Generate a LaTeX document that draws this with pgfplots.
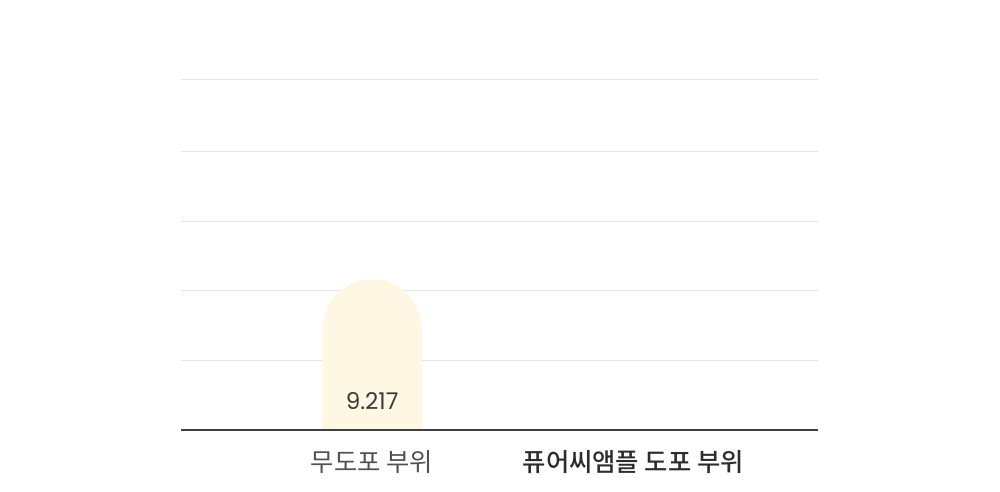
\documentclass[border=0pt]{standalone}
\usepackage{pgfplots}
\pgfplotsset{compat=1.18}
\usepackage{fontspec}
\setmainfont{Noto Sans CJK KR}
\newfontfamily\numfont{Poppins}
\newfontfamily\medfont{Noto Sans CJK KR Medium}

\definecolor{barfill}{RGB}{253,247,228}
\definecolor{gridgray}{RGB}{229,229,229}
\definecolor{basedark}{RGB}{64,64,64}
\definecolor{labgray}{RGB}{80,80,80}
\definecolor{labdark}{RGB}{45,45,45}
\definecolor{numdark}{RGB}{58,58,58}

\begin{document}
\begin{tikzpicture}[x=1pt,y=1pt]
  % page is 1000x492 px at 0.75pt per px
  \path[use as bounding box] (0,0) rectangle (750,369);
  \begin{axis}[
      at={(135.75pt,46.5pt)}, anchor=south west,
      scale only axis, width=477.75pt, height=262.5pt,
      xmin=-0.75, xmax=1.75, ymin=0, ymax=21.4,
      clip=false, no markers,
      axis line style={draw=none},
      major tick length=0pt,
      ytick={4.25,8.5,12.75,17,21.4}, yticklabels={},
      ymajorgrids, grid style={gridgray, line width=0.75pt},
      xtick={0,1.025},
      xticklabels={{\color{labgray}무도포 부위},{\color{labdark}\medfont 퓨어씨앰플 도포 부위}},
      xticklabel style={font=\fontsize{19}{22}\selectfont, anchor=base, yshift=-31pt},
    ]
    % bar with round top
    \addplot[fill=barfill, draw=none, rounded corners=37pt]
      coordinates {(-0.195,0) (-0.195,9.217) (0.195,9.217) (0.195,0)};
    % second category: no bar
    \addplot[draw=none] coordinates {(1,0)};
    % value label
    \addplot[draw=none, nodes near coords, point meta=explicit symbolic,
      every node near coord/.style={anchor=base, yshift=15pt,
        font=\numfont\fontsize{17.3}{20}\selectfont, text=numdark}]
      coordinates {(0,0) [9.217]};
    % baseline
    \addplot[basedark, line width=1.5pt] coordinates {(-0.75,0) (1.75,0)};
  \end{axis}
\end{tikzpicture}
\end{document}
